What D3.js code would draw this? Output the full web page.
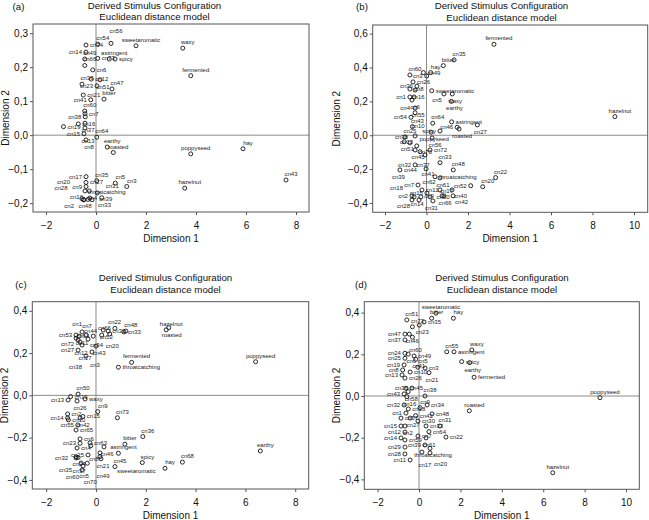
<!DOCTYPE html>
<html><head><meta charset="utf-8">
<script src="https://cdn.jsdelivr.net/npm/d3@7/dist/d3.min.js"></script>
<style>
body{margin:0;background:#fff;}
svg{display:block;font-family:"Liberation Sans",Arial,sans-serif;}
</style></head>
<body><svg id="c" width="649" height="520"></svg>
<script>
// ---------- DATA ----------
const titleLine1 = "Derived Stimulus Configuration";
const titleLine2 = "Euclidean distance model";
const xAxisTitle = "Dimension 1";
const yAxisTitle = "Dimension 2";
const panelLetters = ["(a)", "(b)", "(c)", "(d)"];

const xTicksA = [-2, 0, 2, 4, 6, 8];
const yTicksA = [-0.2, -0.1, 0, 0.1, 0.2, 0.3];
const xTicksB = [-2, 0, 2, 4, 6, 8, 10];
const yTicksB = [-0.4, -0.2, 0, 0.2, 0.4, 0.6];
const xTicksC = [-2, 0, 2, 4, 6, 8];
const yTicksC = [-0.4, -0.2, 0, 0.2, 0.4];
const xTicksD = [-2, 0, 2, 4, 6, 8, 10];
const yTicksD = [-0.4, -0.2, 0, 0.2, 0.4];

const pointsA = [
 ["sweetaromatic",1.6,0.263],["waxy",3.47,0.256],["fermented",3.79,0.175],["poppyseed",3.79,-0.055],
 ["hay",5.88,-0.04],["cn43",7.6,-0.132],["hazelnut",3.55,-0.156],["astringent",0.53,0.224],
 ["spicy",0.76,0.224],["bitter",0.32,0.106],["earthy",0.45,-0.035],["roasted",0.69,-0.051],
 ["throatcatching",0.23,-0.184],["cn5",0.77,-0.141],["cn3",1.23,-0.151],["cn54",0.07,0.268],
 ["cn34",-0.4,0.265],["cn56",0.6,0.27],["cn14",-0.4,0.244],["cn73",0.07,0.226],["cn49",-0.45,0.224],
 ["cn66",-0.45,0.205],["cn6",-0.13,0.192],["cn12",-0.19,0.165],["cn51",0.16,0.163],["cn36",-0.56,0.15],
 ["cn23",0.04,0.145],["cn47",0.64,0.136],["cn21",-0.51,0.118],["cn41",-0.21,0.104],["cn60",-0.45,0.071],
 ["cn7",-0.44,0.063],["cn38",-0.43,0.054],["cn19",-1.3,0.025],["cn16",-0.71,0.033],["cn37",-0.44,0.035],
 ["cn13",-0.44,0.021],["cn15",-0.48,0.004],["cn64",0.03,-0.006],["cn8",-0.4,-0.014],["cn35",0.03,-0.134],
 ["cn17",-0.4,-0.122],["cn27",-0.4,-0.139],["cn9",-0.4,-0.151],["cn4",-0.27,-0.164],["cn10",-0.44,-0.164],
 ["cn39",0.05,-0.17],["cn48",-0.56,-0.187],["cn2",-0.48,-0.19],["cn33",-0.32,-0.189],["cn20",-0.16,-0.19],
 ["cn28",-0.5,-0.19],["cn31",-0.25,-0.185]
];
const pointsB = [
 ["fermented",3.25,0.537],["hazelnut",9.08,0.11],["cn22",3.33,-0.25],["cn20",2.71,-0.304],["cn52",2.13,-0.298],
 ["cn35",1.33,0.445],["bitter",0.81,0.411],["hay",0.2,0.37],["cn49",-0.15,0.37],["cn60",-0.8,0.356],
 ["cn3",0.01,0.35],["cn26",-0.65,0.315],["cn36",-0.46,0.29],["sweetaromatic",0.25,0.263],["waxy",1.24,0.244],
 ["cn5",0.84,0.244],["earthy",1.2,0.2],["cn8",-0.8,0.273],["cn16",-0.55,0.267],["cn1",-0.8,0.226],
 ["cn6",-0.7,0.208],["cn4",-0.6,0.226],["cn55",-0.55,0.161],["cn10",-0.55,0.133],["cn54",-0.75,0.106],
 ["cn43",-0.68,0.051],["cn64",0.3,0.071],["astringent",1.21,0.079],["cn27",2.45,0.061],["cn46",1.48,0.047],
 ["roasted",1.57,0.037],["spicy",0.65,0.025],["poppyseed",0.22,0.018],["cn25",-1.04,-0.01],["cn12",-0.55,-0.004],
 ["cn56",0.27,-0.016],["cn51",-1.07,-0.038],["cn38",-0.8,-0.045],["cn70",-0.47,-0.063],["cn45",-0.55,-0.087],
 ["cn37",-0.31,-0.097],["cn72",0.17,-0.087],["cn41",-0.07,-0.116],["cn33",0.65,-0.162],["cn32",-0.55,-0.175],
 ["cn62",-0.02,-0.199],["cn44",-1.28,-0.205],["cn48",1.29,-0.205],["throatcatching",0.41,-0.245],["cn61",0.65,-0.252],
 ["cn7",-0.41,-0.294],["cn11",-0.22,-0.323],["cn15",0.02,-0.341],["cn30",0.65,-0.323],["cn40",1.23,-0.323],
 ["cn66",0.75,-0.358],["cn2",-0.7,-0.358],["cn14",-0.6,-0.364],["cn42",1.28,-0.358],["cn31",-0.27,-0.364],
 ["cn17",0.17,-0.364],["cn9",0.84,-0.358],["cn28",-0.7,-0.382],["cn18",-0.36,-0.382],["cn39",0.31,-0.388]
];
const pointsC = [
 ["hazelnut",2.82,0.31],["roasted",2.92,0.32],["poppyseed",6.41,0.159],["earthy",6.6,-0.263],["cn68",3.47,-0.316],
 ["hay",2.77,-0.345],["spicy",1.86,-0.318],["cn36",1.88,-0.195],["bitter",1.16,-0.231],["astringent",0.9,-0.274],
 ["cn45",0.76,-0.337],["cn73",0.86,-0.106],["cn9",0.07,-0.077],["fermented",1.43,0.156],["throatcatching",0.9,0.133],
 ["cn48",1.2,0.304],["cn33",1.12,0.3],["cn66",0.76,0.317],["cn52",0.29,0.309],["cn31",0.49,0.304],
 ["cn22",0.55,0.29],["cn64",-0.11,0.28],["cn7",-0.56,0.3],["cn53",-0.8,0.285],["cn11",-0.68,0.28],
 ["cn1",-0.4,0.285],["cn72",-0.8,0.27],["cn34",-0.32,0.266],["cn12",-0.72,0.262],["cn44",-0.64,0.252],
 ["cn17",-0.56,0.238],["cn43",0,0.233],["cn20",0.23,0.285],["cn27",-0.72,0.214],["cn3",-0.16,0.205],
 ["cn38",-0.4,0.186],["cn50",-0.72,0.006],["cn19",-1.02,-0.006],["waxy",-0.44,-0.017],["cn13",-1.12,-0.022],
 ["cn26",-0.76,-0.027],["cn2",-1.14,-0.088],["cn15",-0.53,-0.1],["cn14",-1.14,-0.107],["cn42",-0.64,-0.107],
 ["cn10",-1.11,-0.116],["cn55",-0.73,-0.14],["cn65",-0.8,-0.164],["cn6",-0.64,-0.206],["cn63",-0.24,-0.225],
 ["cn23",-0.64,-0.227],["cn46",0.32,-0.244],["cn4",-0.76,-0.249],["cn8",-0.21,-0.238],["cn21",0.16,-0.272],
 ["cn25",-0.32,-0.282],["cn24",-0.8,-0.291],["cn37",-0.8,-0.296],["cn32",-0.72,-0.294],["cn49",0.16,-0.29],
 ["sweetaromatic",0.2,-0.3],["cn5",-0.6,-0.32],["cn70",-0.35,-0.321],["cn60",-0.52,-0.334],["cn35",-0.56,-0.353]
];
const pointsD = [
 ["sweetaromatic",0.82,0.397],["bitter",0.61,0.373],["cn35",0.24,0.355],["hay",1.66,0.373],["cn51",-0.59,0.365],
 ["cn73",-0.32,0.332],["cn23",0.01,0.34],["cn47",-0.68,0.297],["cn46",-0.47,0.297],["cn37",-0.68,0.269],
 ["cn60",-0.32,0.282],["cn55",1.34,0.212],["astringent",1.69,0.212],["waxy",2.55,0.221],["spicy",2.06,0.165],
 ["earthy",2.45,0.16],["fermented",2.66,0.09],["cn24",-0.68,0.205],["cn6",-0.52,0.201],["cn49",-0.24,0.192],
 ["cn25",-0.68,0.181],["cn41",-0.16,0.176],["cn19",-0.72,0.149],["cn5",-0.06,0.138],["cn3",0.29,0.134],
 ["cn8",-0.79,0.125],["cn10",-0.43,0.115],["cn21",0.48,0.112],["cn13",-0.82,0.101],["cn26",-0.68,0.086],
 ["cn45",-0.63,0.037],["cn36",-0.34,0.038],["cn58",-0.52,0.021],["cn43",-0.72,0.01],["cn16",-0.59,-0.003],
 ["cn38",0.29,0],["cn9",0.05,-0.056],["cn34",0.39,-0.043],["cn32",-0.72,-0.043],["cn18",-0.52,-0.062],
 ["roasted",2.43,-0.071],["cn1",-0.63,-0.082],["cn57",-0.87,-0.106],["cn27",-0.43,-0.106],["cn42",-0.16,-0.094],
 ["cn48",0.63,-0.086],["cn30",-0.05,-0.12],["cn15",-0.87,-0.144],["cn2",-0.68,-0.144],["cn33",0.34,-0.144],
 ["cn31",1.01,-0.144],["cn12",-0.68,-0.173],["cn64",0.48,-0.171],["cn22",1.3,-0.197],["cn7",-0.05,-0.192],
 ["cn61",0.34,-0.201],["cn14",-0.87,-0.201],["cn59",-0.68,-0.211],["cn39",0.29,-0.235],["throatcatching",0.53,-0.251],
 ["cn29",-0.68,-0.245],["cn17",0.14,-0.269],["cn20",0.53,-0.273],["cn28",-0.68,-0.278],["cn11",-0.43,-0.307],
 ["hazelnut",6.46,-0.368],["poppyseed",8.74,-0.008]
];

// ---------- LAYOUT ----------
const layouts = [
 {pts:pointsA, xt:xTicksA, yt:yTicksA, box:[33,309,24,212], xd:[-2.52,8.52], yd:[-0.226,0.327],
  tc:154.5, tb:[8.5,20], let:[18.5,9.5], d2x:8.5, d1b:242},
 {pts:pointsB, xt:xTicksB, yt:yTicksB, box:[372.7,647.7,25,212.3], xd:[-2.593,10.66], yd:[-0.455,0.651],
  tc:501.5, tb:[9,20.5], let:[362,9.5], d2x:340, d1b:242},
 {pts:pointsC, xt:xTicksC, yt:yTicksC, box:[32.3,308.7,301.7,489], xd:[-2.558,8.542], yd:[-0.443,0.443],
  tc:165.5, tb:[281,293], let:[21,287.5], d2x:7.5, d1b:518.5},
 {pts:pointsD, xt:xTicksD, yt:yTicksD, box:[364.3,639.3,301.7,489.3], xd:[-2.643,10.64], yd:[-0.4475,0.4523],
  tc:502, tb:[281,293], let:[361,287.5], d2x:340, d1b:518.5}
];

const LABEL_FS = 6;
const svg = d3.select("#c");
const fmtY = v => (v < -1e-9 ? "\u2212" : "") + Math.abs(v).toFixed(1).replace(".", ",");
const fmtX = v => (v < 0 ? "\u2212" : "") + Math.abs(v);

function overlaps(a, b) {
  return a.x0 < b.x1 && a.x1 > b.x0 && a.y0 < b.y1 && a.y1 > b.y0;
}

layouts.forEach((L, i) => {
  const [x0, x1, y0, y1] = L.box;
  const x = d3.scaleLinear().domain(L.xd).range([x0, x1]);
  const y = d3.scaleLinear().domain(L.yd).range([y1, y0]);
  const g = svg.append("g");

  g.append("text").attr("x", L.tc).attr("y", L.tb[0]).attr("text-anchor","middle")
    .attr("font-size", 9.7).attr("fill","#111").text(titleLine1);
  g.append("text").attr("x", L.tc).attr("y", L.tb[1]).attr("text-anchor","middle")
    .attr("font-size", 9.7).attr("fill","#111").text(titleLine2);
  g.append("text").attr("x", L.let[0]).attr("y", L.let[1]).attr("text-anchor","middle")
    .attr("font-size", 9.7).attr("fill","#111").text(panelLetters[i]);

  g.append("line").attr("x1", x(0)).attr("x2", x(0)).attr("y1", y0).attr("y2", y1)
    .attr("stroke","#8a8a8a").attr("stroke-width",1);
  g.append("line").attr("x1", x0).attr("x2", x1).attr("y1", y(0)).attr("y2", y(0))
    .attr("stroke","#8a8a8a").attr("stroke-width",1);

  const ax = d3.axisBottom(x).tickValues(L.xt).tickSize(3).tickSizeOuter(0).tickFormat(fmtX);
  const ay = d3.axisLeft(y).tickValues(L.yt).tickSize(3).tickSizeOuter(0).tickFormat(fmtY);
  const gx = g.append("g").attr("transform", `translate(0,${y1})`).call(ax);
  const gy = g.append("g").attr("transform", `translate(${x0},0)`).call(ay);
  [gx, gy].forEach(a => {
    a.select(".domain").remove();
    a.selectAll("line").attr("stroke","#555");
    a.selectAll("text").attr("font-size", 10).attr("fill","#111")
      .attr("font-family",'"Liberation Sans",Arial,sans-serif');
  });
  gx.selectAll("text").attr("dy", null).attr("y", 16.5);
  gy.selectAll("text").attr("x", -5);

  g.append("rect").attr("x", x0).attr("y", y0).attr("width", x1 - x0).attr("height", y1 - y0)
    .attr("fill","none").attr("stroke","#555").attr("stroke-width",1);

  g.append("text").attr("x", (x0 + x1) / 2).attr("y", L.d1b).attr("text-anchor","middle")
    .attr("font-size", 10).attr("fill","#111").text(xAxisTitle);
  g.append("text").attr("transform", `translate(${L.d2x},${(y0 + y1) / 2}) rotate(-90)`)
    .attr("text-anchor","middle").attr("font-size", 10).attr("fill","#111").text(yAxisTitle);

  const pg = g.append("g");
  pg.selectAll("circle").data(L.pts).join("circle")
    .attr("cx", d => x(d[1])).attr("cy", d => y(d[2])).attr("r", 2)
    .attr("fill","none").attr("stroke","#111").attr("stroke-width",0.9);

  // greedy label placement (labels avoid each other)
  const labels = pg.selectAll("text").data(L.pts).join("text")
    .attr("font-size", LABEL_FS).attr("fill","#222").attr("text-anchor","start")
    .text(d => d[0]);
  const placed = [];
  const h = LABEL_FS * 0.75;
  labels.each(function(d) {
    const w = this.getComputedTextLength();
    const cx = x(d[1]), cy = y(d[2]);
    const cands = [
      [cx + 5 - w / 2, cy - 4], [cx + 4, cy + 2], [cx - 4 - w, cy + 2], [cx + 3 - w / 2, cy + 9],
      [cx + 2, cy - 4], [cx - 2 - w, cy - 4], [cx + 2, cy + 8], [cx - 2 - w, cy + 8],
      [cx + 5 - w / 2, cy - 10], [cx + 3 - w / 2, cy + 15], [cx + 4, cy - 9], [cx - 4 - w, cy - 9],
      [cx + 4, cy + 13], [cx - 4 - w, cy + 13], [cx + 10, cy + 2], [cx - 10 - w, cy + 2],
      [cx + 5 - w / 2, cy - 16], [cx + 3 - w / 2, cy + 21]
    ];
    for (let r = 1; r <= 4; r++) {
      [-1, 1].forEach(sx => [-6, 0, 6].forEach(dy => {
        const dx = sx * (4 + r * 6);
        cands.push([sx > 0 ? cx + dx : cx + dx - w, cy + 2 + dy * r]);
      }));
    }
    let chosen = null;
    for (const c of cands) {
      const b = {x0: c[0], x1: c[0] + w, y0: c[1] - h, y1: c[1] + 0.5};
      if (b.x0 < x0 + 1 || b.x1 > x1 - 1 || b.y0 < y0 + 1 || b.y1 > y1 - 1) continue;
      if (!placed.some(p => overlaps(p, b))) { chosen = c; break; }
    }
    if (!chosen) chosen = cands[0];
    placed.push({x0: chosen[0], x1: chosen[0] + w, y0: chosen[1] - h, y1: chosen[1] + 0.5});
    d3.select(this).attr("x", chosen[0]).attr("y", chosen[1]);
  });
});
</script></body></html>
